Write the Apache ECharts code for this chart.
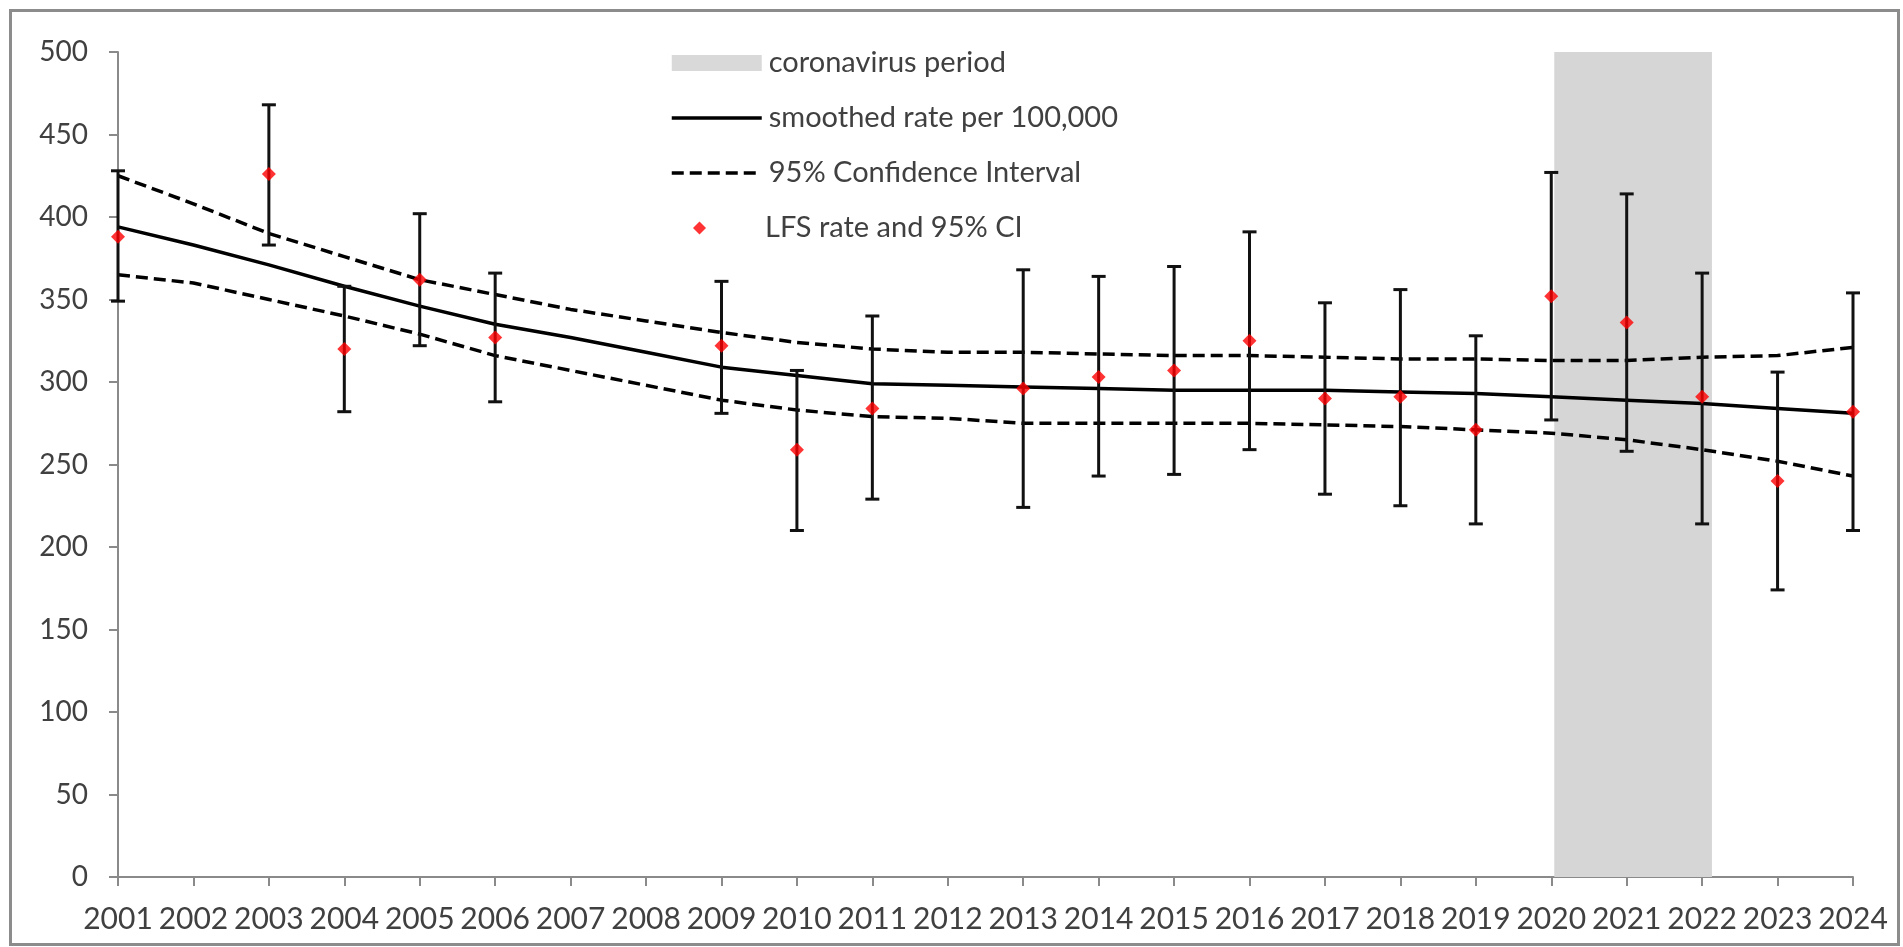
<!DOCTYPE html>
<html>
<head>
<meta charset="utf-8">
<script src="https://cdn.jsdelivr.net/npm/echarts@6/dist/echarts.min.js"></script>
<style>
html,body{margin:0;padding:0;background:#fff;}
#chart{width:1903px;height:947px;}
</style>
</head>
<body>
<div id="chart"></div>
<script>
const years = [2001,2002,2003,2004,2005,2006,2007,2008,2009,2010,2011,2012,2013,2014,2015,2016,2017,2018,2019,2020,2021,2022,2023,2024];
const smoothed = [394,383,371,358,346,335,327,318,309,304,299,298,297,296,295,295,295,294,293,291,289,287,284,281];
const ciUpper  = [425,408,390,376,362,353,344,337,330,324,320,318,318,317,316,316,315,314,314,313,313,315,316,321];
const ciLower  = [365,360,350,340,329,316,307,298,289,283,279,278,275,275,275,275,274,273,271,269,265,259,252,243];
const lfsYears = [2001,2003,2004,2005,2006,2009,2010,2011,2013,2014,2015,2016,2017,2018,2019,2020,2021,2022,2023,2024];
const lfsRate  = [388,426,320,362,327,322,259,284,296,303,307,325,290,291,271,352,336,291,240,282];
const lfsLower = [349,383,282,322,288,281,210,229,224,243,244,259,232,225,214,277,258,214,174,210];
const lfsUpper = [428,468,358,402,366,361,307,340,368,364,370,391,348,356,328,427,414,366,306,354];
const covidStart = 2020.04, covidEnd = 2022.13;
const yMin = 0, yMax = 500, yStep = 50;

const pair = (xs, ys) => xs.map((x, i) => [x, ys[i]]);
const errData = lfsYears.map((y, i) => [y, lfsLower[i], lfsUpper[i]]);

const chart = echarts.init(document.getElementById('chart'));
const txt = '#404040';
const axisCol = '#8a8a8a';
const fontFam = 'Lato, "Open Sans", sans-serif';
const dash = [12, 6];

chart.setOption({
  animation: false,
  backgroundColor: '#fff',
  graphic: [{
    type: 'rect', left: 8, top: 8, shape: {width: 1888, height: 934},
    style: {fill: 'none', stroke: '#8c8c8c', lineWidth: 3}, silent: true
  }],
  grid: {left: 118, right: 50, top: 52, bottom: 70},
  legend: [{
    orient: 'vertical', left: 665, top: 41, itemWidth: 90, itemHeight: 16, itemGap: 21,
    textStyle: {fontFamily: fontFam, fontSize: 29, color: txt, lineHeight: 34, padding: [0,0,0,2]},
    data: [
      {name: 'coronavirus period', icon: 'rect', itemStyle: {color: '#d9d9d9'}},
      {name: 'smoothed rate per 100,000', itemStyle: {opacity: 0},
        lineStyle: {color: '#000', width: 3.5, type: 'solid'}},
      {name: '95% Confidence Interval', itemStyle: {opacity: 0},
        lineStyle: {color: '#000', width: 3.5, type: dash}}
    ]
  }, {
    orient: 'vertical', left: 688, top: 206, itemWidth: 13, itemHeight: 13,
    textStyle: {fontFamily: fontFam, fontSize: 29, color: txt, lineHeight: 34, padding: [0,0,0,54]},
    data: [{name: 'LFS rate and 95% CI', icon: 'diamond', itemStyle: {color: '#ff0000'}}]
  }],
  xAxis: {
    type: 'value', min: years[0], max: years[years.length-1], interval: 1,
    axisLine: {lineStyle: {color: axisCol, width: 2}},
    axisTick: {show: true, length: 9, lineStyle: {color: axisCol, width: 2}},
    splitLine: {show: false},
    axisLabel: {color: txt, fontFamily: fontFam, fontSize: 30, margin: 27, formatter: v => String(v)}
  },
  yAxis: {
    type: 'value', min: yMin, max: yMax, interval: yStep,
    axisLine: {show: true, lineStyle: {color: axisCol, width: 2}},
    axisTick: {show: true, length: 9, lineStyle: {color: axisCol, width: 2}},
    splitLine: {show: false},
    axisLabel: {color: txt, fontFamily: fontFam, fontSize: 28, margin: 30}
  },
  series: [
    {
      name: 'coronavirus period', type: 'line', data: [], color: '#d9d9d9', z: 0,
      markArea: {silent: true, itemStyle: {color: '#d6d6d6'},
        data: [[{xAxis: covidStart, yAxis: yMin}, {xAxis: covidEnd, yAxis: yMax}]]}
    },
    {
      name: 'smoothed rate per 100,000', type: 'line', data: pair(years, smoothed),
      symbol: 'none', color: '#000', lineStyle: {color: '#000', width: 3.5}, z: 3
    },
    {
      name: '95% Confidence Interval', type: 'line', data: pair(years, ciUpper),
      symbol: 'none', color: '#000', lineStyle: {color: '#000', width: 3.5, type: dash}, z: 3
    },
    {
      name: '95% Confidence Interval', type: 'line', data: pair(years, ciLower),
      symbol: 'none', color: '#000', lineStyle: {color: '#000', width: 3.5, type: dash}, z: 3
    },
    {
      name: 'LFS rate and 95% CI', type: 'scatter', data: pair(lfsYears, lfsRate),
      symbol: 'diamond', symbolSize: 14, color: '#ff0000', itemStyle: {color: '#ff0000'}, z: 5
    },
    {
      name: 'LFS rate and 95% CI', type: 'custom', data: errData, z: 4, color: '#ff0000',
      renderItem: (params, api) => {
        const x = api.value(0);
        const lo = api.coord([x, api.value(1)]);
        const hi = api.coord([x, api.value(2)]);
        const cap = 7;
        const st = {stroke: '#111', lineWidth: 3};
        return {type: 'group', children: [
          {type: 'line', shape: {x1: lo[0], y1: lo[1], x2: hi[0], y2: hi[1]}, style: st},
          {type: 'line', shape: {x1: lo[0]-cap, y1: lo[1], x2: lo[0]+cap, y2: lo[1]}, style: st},
          {type: 'line', shape: {x1: hi[0]-cap, y1: hi[1], x2: hi[0]+cap, y2: hi[1]}, style: st}
        ]};
      },
      encode: {x: 0, y: [1, 2]}
    }
  ]
});
</script>
</body>
</html>
